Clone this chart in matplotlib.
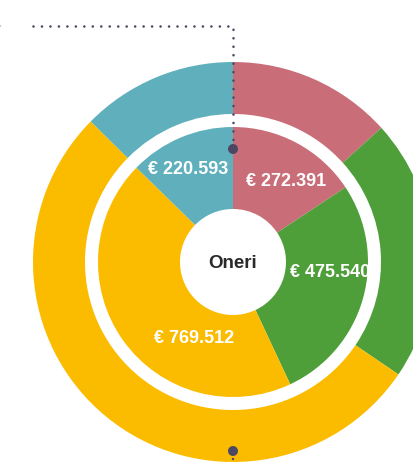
import numpy as np
import matplotlib
matplotlib.use("Agg")
import matplotlib.pyplot as plt
from matplotlib.patches import Circle

# inner pie: amounts in euro, clockwise from the top
inner_values = [272391, 475540, 769512, 220593]
# outer ring: shares in percent, same order
outer_values = [13.3, 21.2, 52.9, 12.6]
colors = ["#c96e78", "#4e9f3a", "#fbbc00", "#5fb0bc"]
center_label = "Oneri"

# label placement: distance from centre and angle nudge (degrees, ccw)
label_r = [97, 98, 85, 104]
label_nudge = [-5, 10, 27, 3]

def euro(v):
    return "€ " + "{:,}".format(v).replace(",", ".")

W, H = 413, 464
cx, cy = 233, H - 263
dot_col = "#4c4864"

fig = plt.figure(figsize=(W / 100, H / 100), dpi=100)
ax = fig.add_axes([0, 0, 1, 1])

ax.pie(outer_values, radius=200, center=(cx, cy), startangle=90,
       counterclock=False, colors=colors,
       wedgeprops=dict(width=52, linewidth=0))
wedges, _ = ax.pie(inner_values, radius=135, center=(cx, cy), startangle=90,
                   counterclock=False, colors=colors,
                   wedgeprops=dict(width=82, linewidth=0))

for w, v, r, d in zip(wedges, inner_values, label_r, label_nudge):
    th = np.deg2rad((w.theta1 + w.theta2) / 2 + d)
    ax.text(cx + r * np.cos(th), cy + r * np.sin(th), euro(v),
            ha="center", va="center", color="white", fontsize=13,
            fontweight="bold", family="Liberation Sans")

ax.text(cx, cy, center_label, ha="center", va="center", color="#2a2a2a",
        fontsize=13.5, fontweight="bold", family="Liberation Sans")

# dotted leader from the top left down to the ring
ax.plot([33, cx, cx], [H - 27, H - 27, H - 141], color=dot_col, lw=1.9,
        linestyle=(0, (0.01, 3.2)), dash_capstyle="round")
ax.add_patch(Circle((cx, H - 150), 5, color=dot_col, lw=0))
ax.add_patch(Circle((cx, H - 452), 5, color=dot_col, lw=0))
ax.add_patch(Circle((cx, H - 460), 1.2, color=dot_col, lw=0))
ax.add_patch(Circle((0, H - 27), 1.2, color="#cccccc", lw=0))

ax.set_xlim(0, W)
ax.set_ylim(0, H)
ax.set_aspect("equal")
ax.axis("off")

fig.savefig("out.png", dpi=100)
